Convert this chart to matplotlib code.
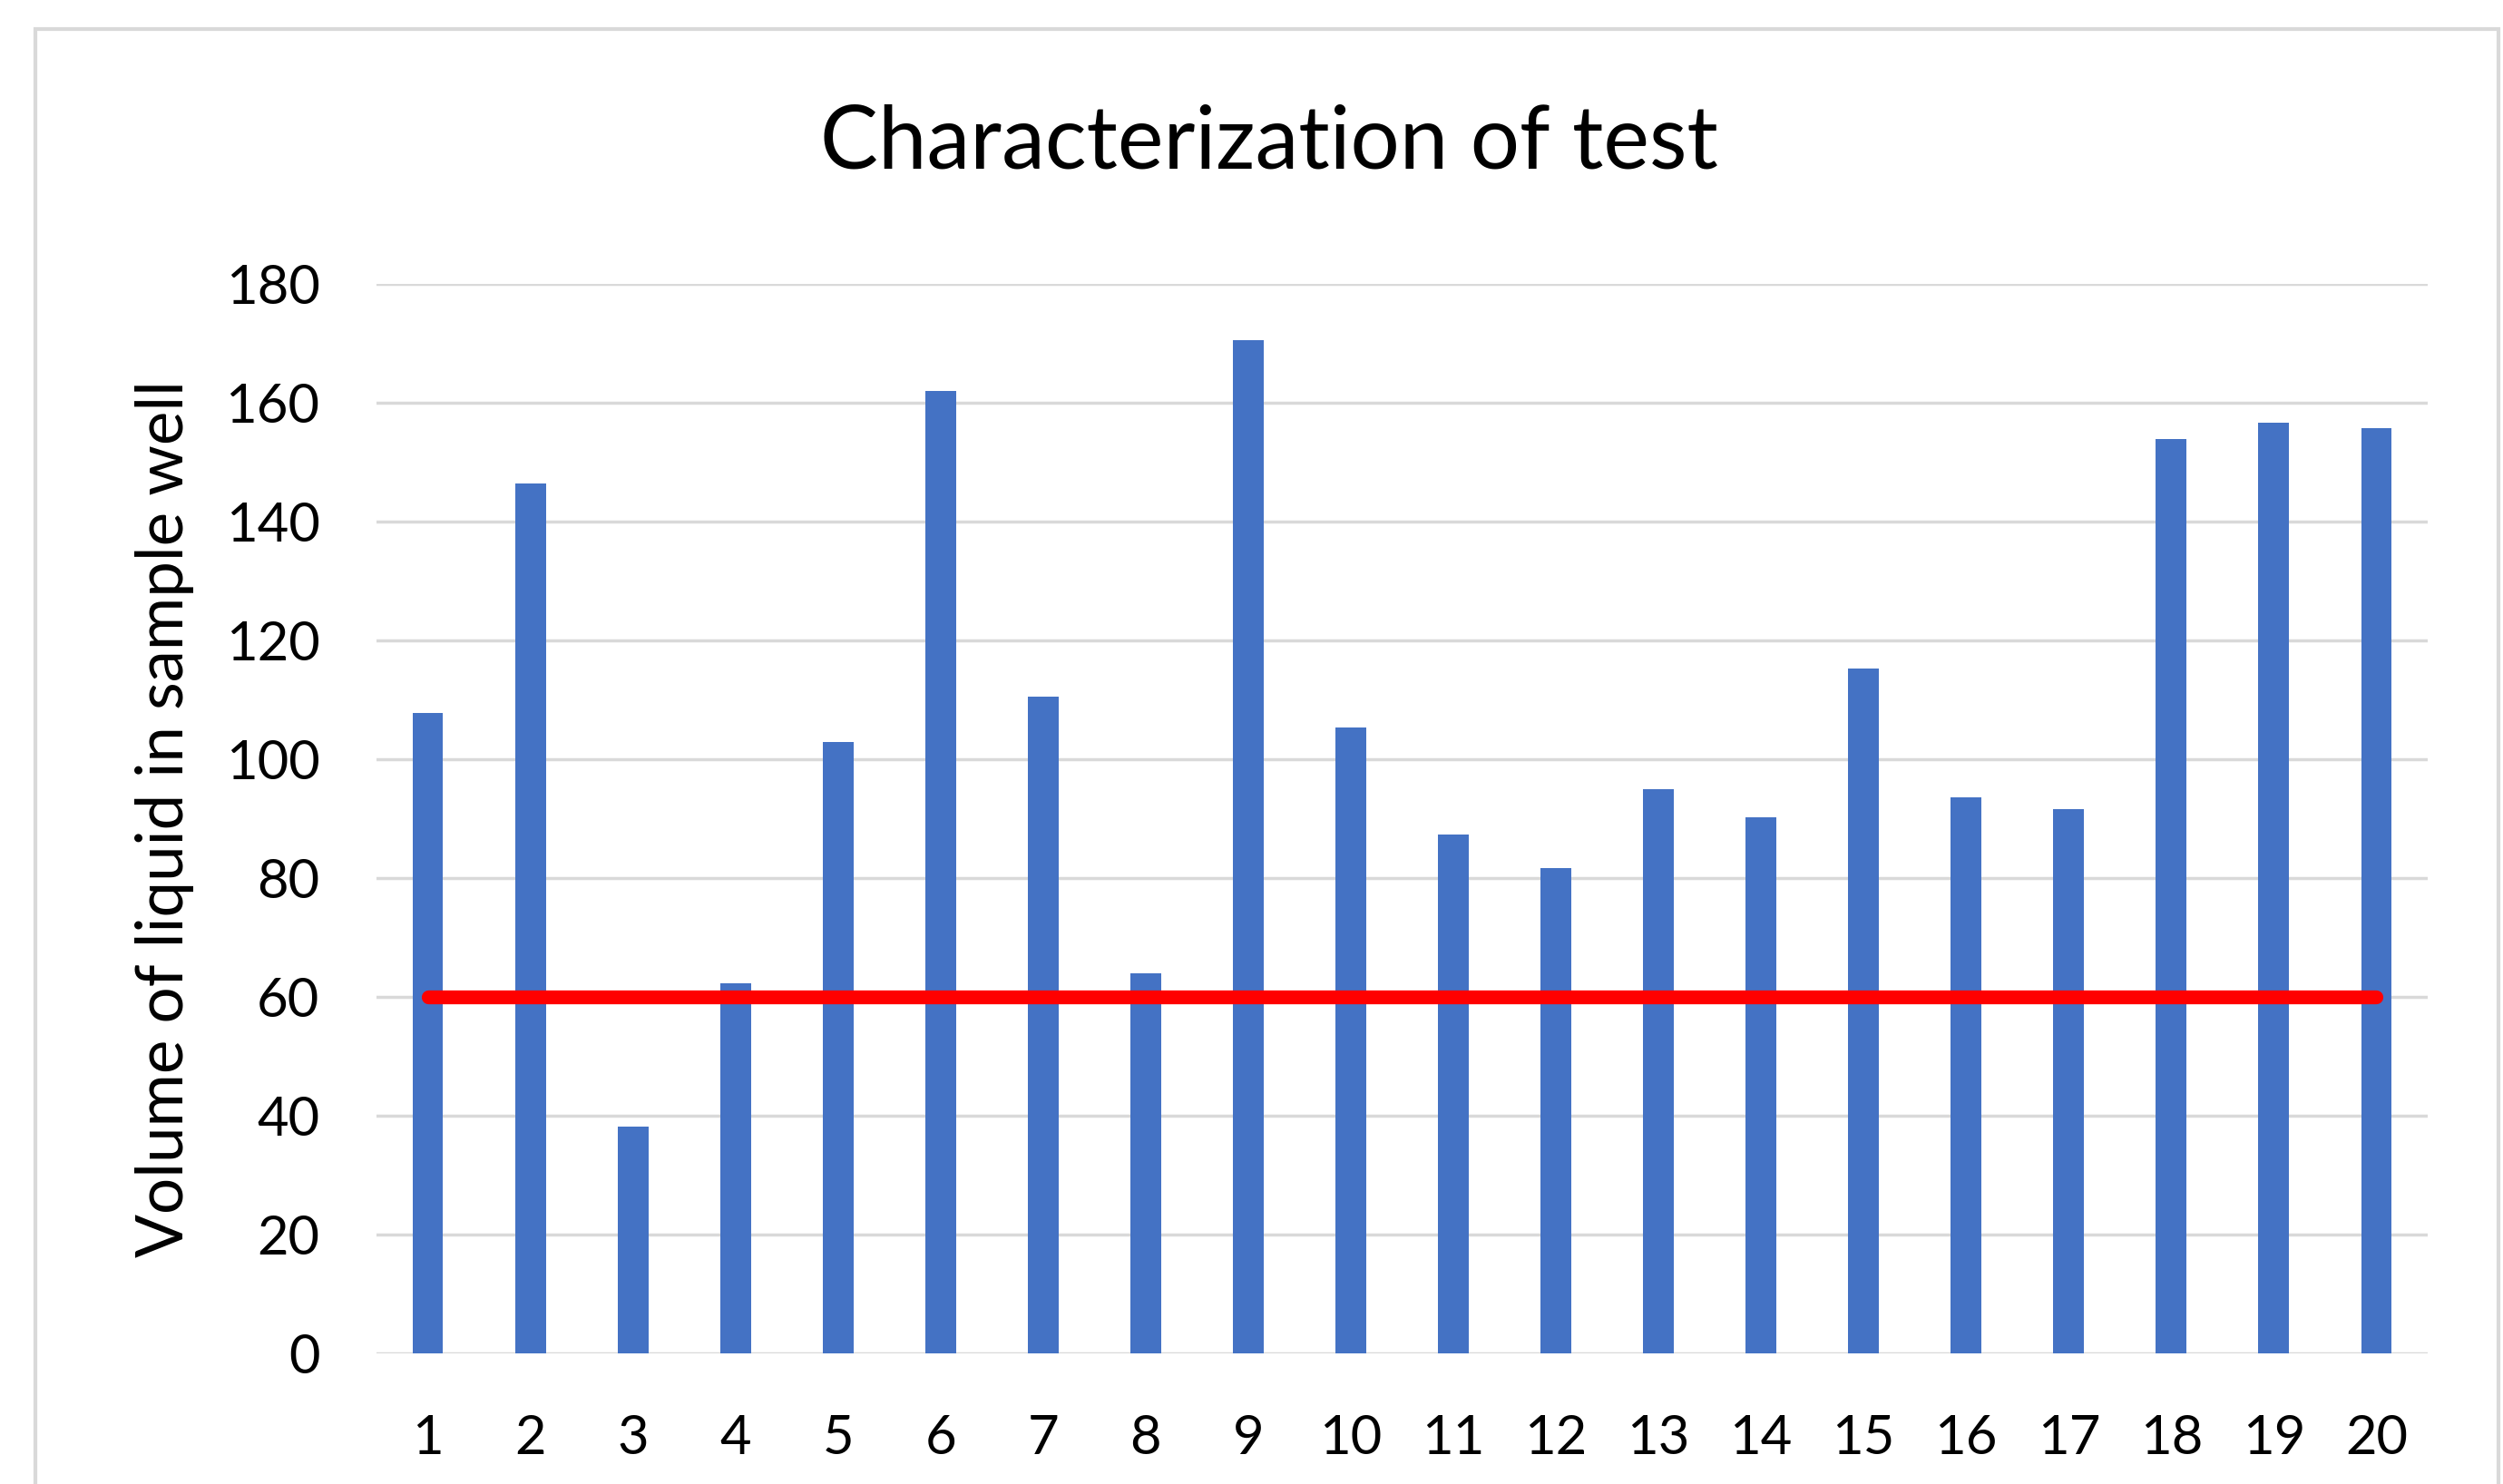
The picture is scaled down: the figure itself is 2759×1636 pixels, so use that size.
import matplotlib
matplotlib.use("Agg")
import matplotlib.pyplot as plt
from matplotlib.patches import Rectangle

categories = [str(i) for i in range(1, 21)]
volumes = [107.8, 146.4, 38.1, 62.3, 102.9, 162.0, 110.5, 63.9, 170.6, 105.3,
           87.3, 81.7, 94.9, 90.3, 115.3, 93.6, 91.6, 153.9, 156.6, 155.8]
threshold = [60] * 20
y_ticks = [0, 20, 40, 60, 80, 100, 120, 140, 160, 180]

plt.rcParams['font.family'] = ['Lato', 'DejaVu Sans']

W, H = 2759, 1636
fig = plt.figure(figsize=(W / 100, H / 100), dpi=100)
fig.patch.set_facecolor('white')

# chart area border
fig.patches.append(Rectangle((39 / W, -0.05), (2754 - 39) / W, 1 - 32 / H + 0.05,
                             transform=fig.transFigure, fill=False,
                             edgecolor='#D9D9D9', linewidth=3))

ax = fig.add_axes([415 / W, 1 - 1492 / H, (2676 - 415) / W, (1492 - 313) / H])
x = list(range(len(categories)))
ax.bar(x, volumes, width=0.3, color='#4472C4', zorder=3)
ax.plot(x, threshold, color='#FF0000', linewidth=11, solid_capstyle='round', zorder=4)

ax.set_xlim(-0.5, len(categories) - 0.5)
ax.set_ylim(0, 180)
ax.set_yticks(y_ticks)
ax.set_xticks(x)
ax.set_xticklabels(categories)
ax.grid(axis='y', color='#D9D9D9', linewidth=2.5, zorder=0)
ax.set_axisbelow(True)
for s in ax.spines.values():
    s.set_visible(False)
ax.tick_params(axis='both', length=0, labelsize=43, colors='black')
ax.tick_params(axis='y', pad=45)
ax.tick_params(axis='x', pad=48)

ax.set_ylabel('Volume of liquid in sample well', fontsize=51, labelpad=25)
fig.text(1399 / W, 1 - 158 / H, 'Characterization of test', fontsize=69,
         ha='center', va='center')

fig.savefig('out.png', dpi=100)
